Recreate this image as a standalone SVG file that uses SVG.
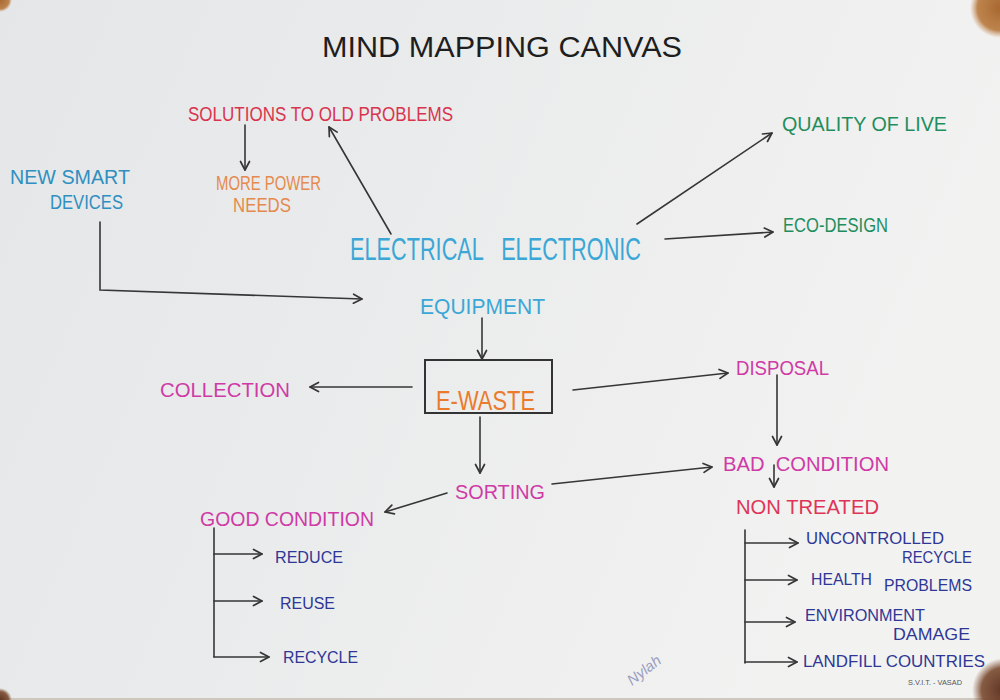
<svg xmlns="http://www.w3.org/2000/svg" width="1000" height="700" viewBox="0 0 1000 700">
  <defs>
    <linearGradient id="paper" x1="0" y1="0" x2="1" y2="0.3">
      <stop offset="0" stop-color="#e4e6e8"/>
      <stop offset="0.6" stop-color="#eceded"/>
      <stop offset="1" stop-color="#f2f2f1"/>
    </linearGradient>
    <radialGradient id="wood" cx="0.5" cy="0.5" r="0.5">
      <stop offset="0" stop-color="#a8672f"/>
      <stop offset="0.75" stop-color="#b8783c" stop-opacity="0.9"/>
      <stop offset="1" stop-color="#c89060" stop-opacity="0"/>
    </radialGradient>
    <radialGradient id="thumb" cx="0.5" cy="0.5" r="0.5">
      <stop offset="0" stop-color="#5e3422"/>
      <stop offset="0.7" stop-color="#7a4a30" stop-opacity="0.9"/>
      <stop offset="1" stop-color="#8a5a3a" stop-opacity="0"/>
    </radialGradient>
    <marker id="arr" viewBox="0 0 12 12" refX="10.5" refY="6" markerWidth="12" markerHeight="12" markerUnits="userSpaceOnUse" orient="auto">
      <path d="M2,1.5 L10.5,6 L2,10.5" fill="none" stroke="#353535" stroke-width="1.7" stroke-linecap="round" stroke-linejoin="round"/>
    </marker>
    <style>
      text { font-family: "Liberation Sans", "DejaVu Sans", sans-serif; white-space: pre; }
      .hand { font-size: 20px; }
      .red { fill: #d9344e; }
      .orange { fill: #e58a4e; }
      .blue { fill: #2f8fc0; }
      .sky { fill: #3ba7d6; }
      .green { fill: #1f8e5e; }
      .mag { fill: #cf3aa6; }
      .pink { fill: #df3457; }
      .navy { fill: #2f3796; font-size: 16px; }
      .line { fill: none; stroke: #363636; stroke-width: 1.6; stroke-linecap: round; }
      .arrow { marker-end: url(#arr); }
    </style>
  </defs>

  <!-- paper sheet with corner shadows -->
  <rect x="0" y="0" width="1000" height="700" fill="url(#paper)"/>
  <rect x="0" y="698" width="1000" height="2" fill="#cfc6bd"/>
  <circle cx="0" cy="0" r="12" fill="url(#wood)"/>
  <circle cx="1000" cy="8" r="30" fill="url(#wood)"/>
  <circle cx="1004" cy="690" r="32" fill="url(#thumb)"/>
  <circle cx="0" cy="700" r="12" fill="url(#thumb)"/>

  <!-- title -->
  <text id="title" x="322" y="57" font-size="30" fill="#1e1e1e" textLength="360" lengthAdjust="spacingAndGlyphs">MIND MAPPING CANVAS</text>

  <!-- connectors -->
  <g id="connectors">
    <line class="line arrow" x1="245" y1="125" x2="245" y2="170"/>
    <line class="line arrow" x1="391" y1="234" x2="329" y2="127"/>
    <polyline class="line arrow" points="100,222 100,290 362,299"/>
    <line class="line arrow" x1="637" y1="224" x2="772" y2="133"/>
    <line class="line arrow" x1="665" y1="239" x2="773" y2="232"/>
    <line class="line arrow" x1="482" y1="318" x2="482" y2="359"/>
    <line class="line arrow" x1="412" y1="387" x2="310" y2="387"/>
    <line class="line arrow" x1="480" y1="417" x2="480" y2="473"/>
    <line class="line arrow" x1="447" y1="493" x2="385" y2="512"/>
    <line class="line arrow" x1="573" y1="390" x2="728" y2="373"/>
    <line class="line arrow" x1="552" y1="484" x2="712" y2="467"/>
    <line class="line arrow" x1="777" y1="375" x2="777" y2="445"/>
    <line class="line arrow" x1="774" y1="465" x2="774" y2="487"/>
    <!-- good condition branches -->
    <line class="line" x1="214" y1="528" x2="214" y2="657"/>
    <line class="line arrow" x1="214" y1="554" x2="262" y2="554"/>
    <line class="line arrow" x1="214" y1="601" x2="262" y2="601"/>
    <line class="line arrow" x1="214" y1="657" x2="269" y2="657"/>
    <!-- non treated branches -->
    <line class="line" x1="745" y1="530" x2="745" y2="663"/>
    <line class="line arrow" x1="745" y1="543" x2="798" y2="543"/>
    <line class="line arrow" x1="745" y1="580" x2="797" y2="580"/>
    <line class="line arrow" x1="745" y1="622" x2="795" y2="622"/>
    <line class="line arrow" x1="745" y1="662" x2="797" y2="662"/>
  </g>

  <!-- nodes -->
  <g id="solutions"><text class="hand red" x="188" y="121" textLength="265" lengthAdjust="spacingAndGlyphs">SOLUTIONS TO OLD PROBLEMS</text></g>
  <g id="more-power">
    <text class="hand orange" x="216" y="190" font-size="18" textLength="105" lengthAdjust="spacingAndGlyphs">MORE POWER</text>
    <text class="hand orange" x="233" y="212" font-size="18" textLength="58" lengthAdjust="spacingAndGlyphs">NEEDS</text>
  </g>
  <g id="new-devices">
    <text class="hand blue" x="10" y="184" font-size="19" textLength="120" lengthAdjust="spacingAndGlyphs">NEW SMART</text>
    <text class="hand blue" x="50" y="209" font-size="19" textLength="73" lengthAdjust="spacingAndGlyphs">DEVICES</text>
  </g>
  <g id="eee">
    <text class="sky" x="350" y="260" font-size="31" textLength="291" lengthAdjust="spacingAndGlyphs">ELECTRICAL   ELECTRONIC</text>
    <text class="sky" x="420" y="314" font-size="22" textLength="125" lengthAdjust="spacingAndGlyphs">EQUIPMENT</text>
  </g>
  <g id="quality"><text class="hand green" x="782" y="131" textLength="165" lengthAdjust="spacingAndGlyphs">QUALITY OF LIVE</text></g>
  <g id="eco-design"><text class="hand green" x="783" y="232" font-size="18" textLength="105" lengthAdjust="spacingAndGlyphs">ECO-DESIGN</text></g>
  <g id="e-waste">
    <rect x="425" y="360" width="127" height="53" fill="none" stroke="#333" stroke-width="2"/>
    <text x="436" y="410" font-size="28" fill="#ea7b2c" textLength="99" lengthAdjust="spacingAndGlyphs">E-WASTE</text>
  </g>
  <g id="collection"><text class="hand mag" x="160" y="397" textLength="130" lengthAdjust="spacingAndGlyphs">COLLECTION</text></g>
  <g id="disposal"><text class="hand mag" x="736" y="375" textLength="93" lengthAdjust="spacingAndGlyphs">DISPOSAL</text></g>
  <g id="bad-condition"><text class="hand mag" x="723" y="471" textLength="166" lengthAdjust="spacingAndGlyphs">BAD  CONDITION</text></g>
  <g id="non-treated"><text class="hand pink" x="736" y="514" textLength="143" lengthAdjust="spacingAndGlyphs">NON TREATED</text></g>
  <g id="sorting"><text class="hand mag" x="455" y="499" textLength="90" lengthAdjust="spacingAndGlyphs">SORTING</text></g>
  <g id="good-condition"><text class="hand mag" x="200" y="526" textLength="174" lengthAdjust="spacingAndGlyphs">GOOD CONDITION</text></g>
  <g id="reduce"><text class="navy" x="275" y="563" font-size="17" textLength="68" lengthAdjust="spacingAndGlyphs">REDUCE</text></g>
  <g id="reuse"><text class="navy" x="280" y="609" font-size="17" textLength="55" lengthAdjust="spacingAndGlyphs">REUSE</text></g>
  <g id="recycle"><text class="navy" x="283" y="663" font-size="17" textLength="75" lengthAdjust="spacingAndGlyphs">RECYCLE</text></g>
  <g id="uncontrolled">
    <text class="navy" x="806" y="544" textLength="138" lengthAdjust="spacingAndGlyphs">UNCONTROLLED</text>
    <text class="navy" x="902" y="563" textLength="70" lengthAdjust="spacingAndGlyphs">RECYCLE</text>
  </g>
  <g id="health">
    <text class="navy" x="811" y="585" textLength="61" lengthAdjust="spacingAndGlyphs">HEALTH</text>
    <text class="navy" x="884" y="591" textLength="88" lengthAdjust="spacingAndGlyphs">PROBLEMS</text>
  </g>
  <g id="environment">
    <text class="navy" x="805" y="621" textLength="120" lengthAdjust="spacingAndGlyphs">ENVIRONMENT</text>
    <text class="navy" x="893" y="640" textLength="77" lengthAdjust="spacingAndGlyphs">DAMAGE</text>
  </g>
  <g id="landfill"><text class="navy" x="803" y="667" font-size="17" textLength="182" lengthAdjust="spacingAndGlyphs">LANDFILL COUNTRIES</text></g>

  <!-- footer marks -->
  <text x="908" y="685" font-size="7" fill="#555" textLength="54" lengthAdjust="spacingAndGlyphs">S.V.I.T. - VASAD</text>
  <text x="632" y="686" font-size="15" font-style="italic" fill="#9a9ec0" font-family="Liberation Serif, serif" transform="rotate(-38 632 686)">Nylah</text>
</svg>
